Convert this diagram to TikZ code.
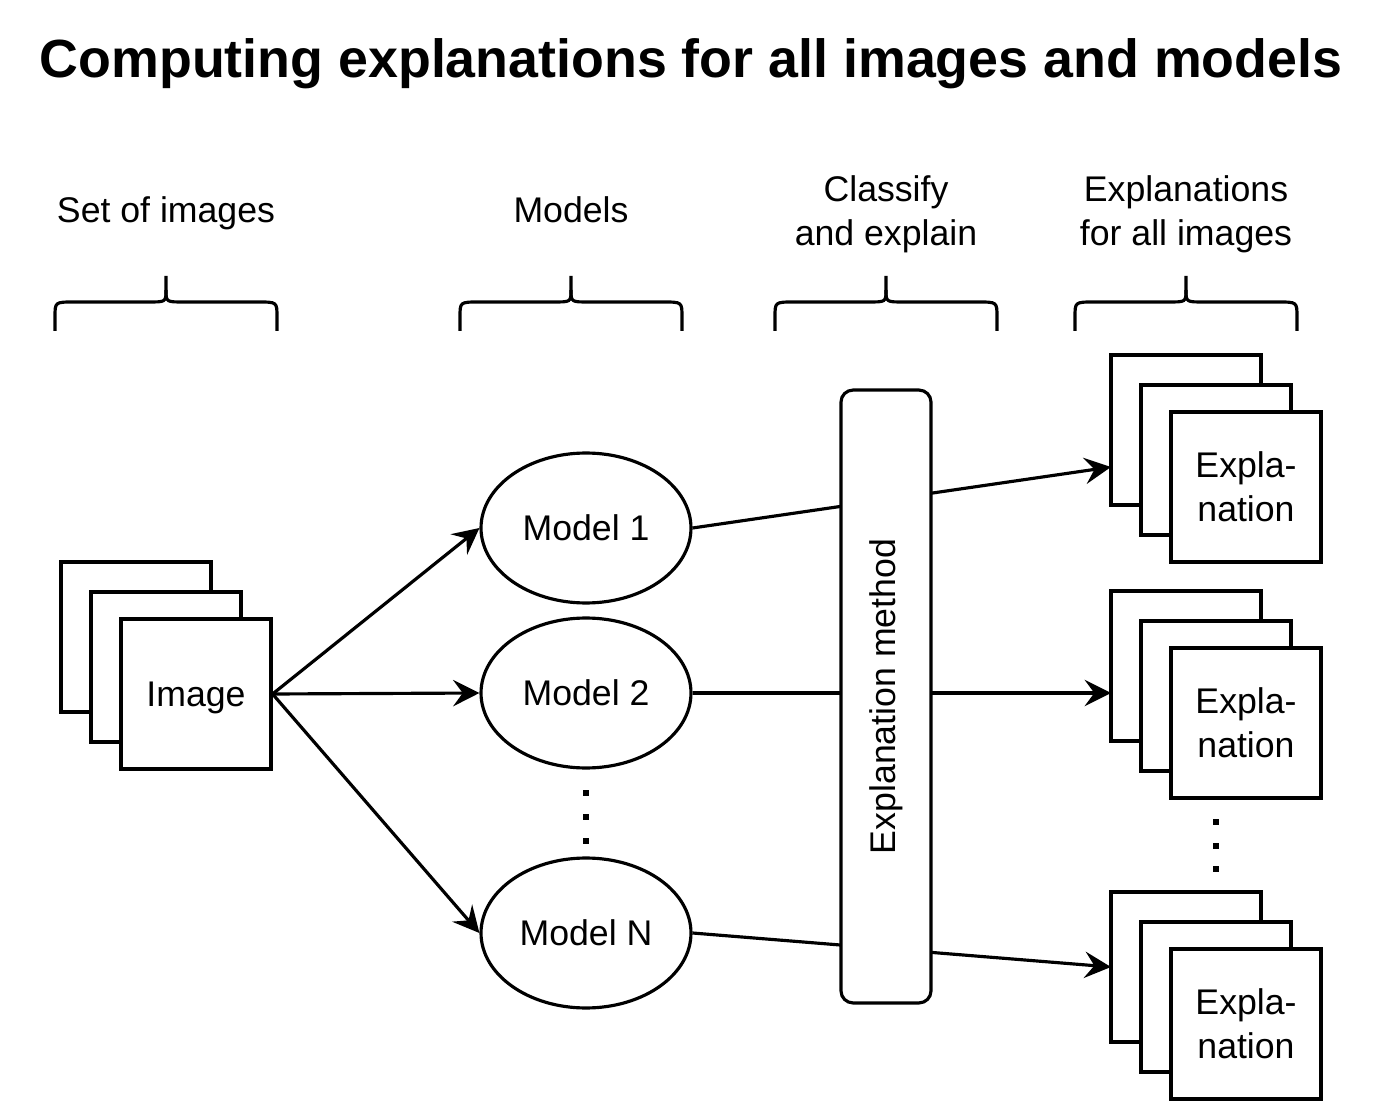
\documentclass[tikz,border=0pt]{standalone}
\usepackage{fontspec}
\setmainfont{Liberation Sans}
\usetikzlibrary{arrows.meta,shapes.geometric}
\begin{document}
\begin{tikzpicture}[x=0.02cm,y=-0.02cm,
  lw/.style={line width=1.8pt},
  txt/.style={font=\fontsize{20.3}{25}\selectfont},
  card/.style={draw, lw, fill=white, minimum width=3cm, minimum height=3cm, inner sep=0pt, txt, align=center},
  model/.style={draw, lw, ellipse, fill=white, minimum width=4.2cm, minimum height=3cm, inner sep=0pt, txt, text height=14.5pt, text depth=0pt},
  conn/.style={lw, -{Stealth[length=15pt,width=15pt,inset=5.5pt]}},
  lbl/.style={txt, align=center},
  dotsq/.style={fill=black, minimum size=0.12cm, inner sep=0pt},
  curlybrace/.pic={
    \draw[lw] (-111,0) -- (-111,-14) .. controls (-111,-29) .. (-92,-29) -- (-18,-29) .. controls (0,-29) .. (0,-41) -- (0,-55);
    \draw[lw] (111,0) -- (111,-14) .. controls (111,-29) .. (92,-29) -- (18,-29) .. controls (0,-29) .. (0,-41);
  }
]
\useasboundingbox (0,0) rectangle (1380,1101);

% title
\node[anchor=base, font=\bfseries\fontsize{30.6}{36}\selectfont] (title) at (691,78) {Computing explanations for all images and models};

% column labels
\node[lbl, anchor=base] (lset) at (166,223) {Set of images};
\node[lbl, anchor=base] (lmod) at (571,223) {Models};
\node[lbl] (lcls) at (886,214) {Classify\\and explain};
\node[lbl] (lexp) at (1186,214) {Explanations\\for all images};

% braces
\pic at (166,331) {curlybrace};
\pic at (571,331) {curlybrace};
\pic at (886,331) {curlybrace};
\pic at (1186,331) {curlybrace};

% image stack
\node[card] (imgA) at (136,637) {};
\node[card] (imgB) at (166,667) {};
\node[card, text height=14.5pt, text depth=0pt] (img) at (196,694) {Image};

% models
\node[model] (m1) at (586,528) {Model 1};
\node[model] (m2) at (586,693) {Model 2};
\node[model] (mN) at (586,933) {Model N};
\node[dotsq] (d1) at (586,793) {};
\node[dotsq] (d2) at (586,817) {};
\node[dotsq] (d3) at (586,841) {};

% explanation stacks
\node[card] (e1A) at (1186,430) {};
\node[card] (e1B) at (1216,460) {};
\node[card] (e1) at (1246,487) {Expla-\\nation};
\node[card] (e2A) at (1186,666) {};
\node[card] (e2B) at (1216,696) {};
\node[card] (e2) at (1246,723) {Expla-\\nation};
\node[card] (e3A) at (1186,967) {};
\node[card] (e3B) at (1216,997) {};
\node[card] (e3) at (1246,1024) {Expla-\\nation};
\node[dotsq] (r1) at (1216,822) {};
\node[dotsq] (r2) at (1216,846) {};
\node[dotsq] (r3) at (1216,869) {};

\coordinate (t1) at (1111,467);
\coordinate (t2) at (1111,693);
\coordinate (t3) at (1111,967);

% connectors
\draw[conn] (img.east) -- (m1.west);
\draw[conn] (img.east) -- (m2.west);
\draw[conn] (img.east) -- (mN.west);
\draw[conn] (m1.east) -- (t1);
\draw[conn] (m2.east) -- (t2);
\draw[conn] (mN.east) -- (t3);

% explanation method box (on top of the lines)
\node[draw, lw, fill=white, rounded corners=0.24cm, rotate=90, minimum width=12.26cm, minimum height=1.8cm, inner sep=0pt, txt] (meth) at (886,696.5) {Explanation method};
\end{tikzpicture}
\end{document}
